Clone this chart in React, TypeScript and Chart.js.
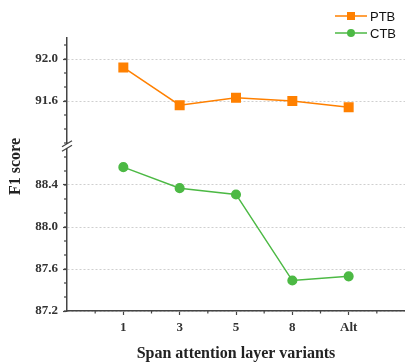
import React, { useEffect, useRef } from 'react';
import { Chart, registerables } from 'chart.js';

Chart.register(...registerables);

const categories = ['1', '3', '5', '8', 'Alt'];
const seriesNames = ['PTB', 'CTB'];
const ptbValues = [91.92, 91.56, 91.63, 91.6, 91.54];
const ctbValues = [88.57, 88.37, 88.31, 87.49, 87.53];
const upperTicks = [92.0, 91.6];
const lowerTicks = [88.4, 88.0, 87.6, 87.2];
const upperRange = [91.2, 92.2];
const lowerRange = [87.2, 88.8];

const ORANGE = '#ff8000';
const GREEN = '#4cb944';
const AXIS = '#444444';
const SERIF = '"Liberation Serif", "Times New Roman", serif';
const SANS = '"Liberation Sans", Arial, sans-serif';

const decorPlugin = {
  id: 'decor',
  afterDraw(chart: any) {
    const ctx = chart.ctx;
    const area = chart.chartArea;
    const x = chart.scales.x;
    const yTop = chart.scales.yTop;
    const yBot = chart.scales.yBot;
    ctx.save();
    ctx.strokeStyle = AXIS;
    ctx.lineWidth = 1.2;
    const step = 0.4 / 3;
    const drawYMinor = (scale: any, lo: number, hi: number) => {
      for (let k = 0; ; k++) {
        const v = lo + k * step;
        if (v > hi + 1e-6) break;
        const p = scale.getPixelForValue(v);
        ctx.beginPath();
        ctx.moveTo(area.left, p);
        ctx.lineTo(area.left - 3, p);
        ctx.stroke();
      }
    };
    drawYMinor(yTop, upperRange[0], upperRange[1]);
    drawYMinor(yBot, lowerRange[0], lowerRange[1] - 0.05);
    for (let v = 0.5; v < categories.length + 1; v += 1) {
      const p = x.getPixelForValue(v);
      ctx.beginPath();
      ctx.moveTo(p, area.bottom);
      ctx.lineTo(p, area.bottom + 2.5);
      ctx.stroke();
    }
    // axis break marks
    const by = yTop.bottom + 3;
    const bx = area.left;
    ctx.fillStyle = '#ffffff';
    ctx.fillRect(bx - 2, by - 2, 4, 4);
    ctx.lineWidth = 1.2;
    [-2.2, 2.2].forEach((d) => {
      ctx.beginPath();
      ctx.moveTo(bx - 5, by + d + 3);
      ctx.lineTo(bx + 5, by + d - 3);
      ctx.stroke();
    });
    // y-axis title
    ctx.save();
    ctx.translate(16, (area.top + area.bottom) / 2 - 8);
    ctx.rotate(-Math.PI / 2);
    ctx.fillStyle = '#222';
    ctx.font = 'bold 16px ' + SERIF;
    ctx.textAlign = 'center';
    ctx.textBaseline = 'middle';
    ctx.fillText('F1 score', 0, 0);
    ctx.restore();
    // legend
    const right = chart.width;
    chart.data.datasets.forEach((ds: any, i: number) => {
      const ly = 16 + i * 17;
      const x0 = right - 70;
      const x1 = right - 38;
      ctx.strokeStyle = ds.borderColor;
      ctx.lineWidth = 1.5;
      ctx.beginPath();
      ctx.moveTo(x0, ly);
      ctx.lineTo(x1, ly);
      ctx.stroke();
      ctx.fillStyle = ds.backgroundColor;
      const cx = (x0 + x1) / 2;
      if (ds.pointStyle === 'rect') {
        ctx.fillRect(cx - 4, ly - 4, 8, 8);
      } else {
        ctx.beginPath();
        ctx.arc(cx, ly, 4, 0, Math.PI * 2);
        ctx.fill();
      }
      ctx.fillStyle = '#111';
      ctx.font = '13px ' + SANS;
      ctx.textAlign = 'left';
      ctx.textBaseline = 'middle';
      ctx.fillText(ds.label, x1 + 3, ly + 1);
    });
    ctx.restore();
  },
};

export default function App() {
  const ref = useRef<HTMLCanvasElement | null>(null);
  useEffect(() => {
    if (!ref.current) return;
    const tickFont = { family: SERIF, size: 13, weight: 'bold' as const };
    const yCommon = (min: number, max: number, ticks: number[], weight: number) => ({
      type: 'linear' as const,
      position: 'left' as const,
      stack: 'y',
      stackWeight: weight,
      min,
      max,
      afterBuildTicks: (s: any) => {
        s.ticks = ticks.map((v) => ({ value: v }));
      },
      afterFit: (s: any) => {
        s.width = 67;
      },
      grid: {
        color: '#cfcfcf',
        lineWidth: 1,
        tickColor: AXIS,
        tickLength: 4,
        tickWidth: 1.2,
      },
      border: { display: true, color: AXIS, width: 1.5, dash: [2, 2] },
      ticks: {
        font: tickFont,
        color: '#333',
        padding: 5,
        callback: (v: any) => Number(v).toFixed(1),
      },
    });
    const chart = new Chart(ref.current, {
      type: 'line',
      data: {
        datasets: [
          {
            label: seriesNames[0],
            data: ptbValues.map((v, i) => ({ x: i + 1, y: v })),
            yAxisID: 'yTop',
            borderColor: ORANGE,
            backgroundColor: ORANGE,
            borderWidth: 1.5,
            pointStyle: 'rect',
            pointRadius: 6,
            pointHoverRadius: 6,
          },
          {
            label: seriesNames[1],
            data: ctbValues.map((v, i) => ({ x: i + 1, y: v })),
            yAxisID: 'yBot',
            borderColor: GREEN,
            backgroundColor: GREEN,
            borderWidth: 1.5,
            pointStyle: 'circle',
            pointRadius: 4.3,
            pointHoverRadius: 4.3,
          },
        ],
      },
      options: {
        animation: false,
        responsive: true,
        maintainAspectRatio: false,
        layout: { autoPadding: false, padding: { top: 38, left: 0, right: 0, bottom: 0 } },
        plugins: { legend: { display: false }, tooltip: { enabled: false } },
        scales: {
          x: {
            type: 'linear',
            min: 0,
            max: categories.length + 1,
            afterBuildTicks: (s: any) => {
              s.ticks = categories.map((_, i) => ({ value: i + 1 }));
            },
            afterFit: (s: any) => {
              s.height = 52;
            },
            grid: {
              drawOnChartArea: false,
              tickColor: AXIS,
              tickLength: 4,
              tickWidth: 1.2,
            },
            border: { display: true, color: AXIS, width: 1.5 },
            ticks: {
              font: tickFont,
              color: '#333',
              padding: 5,
              autoSkip: false,
              maxRotation: 0,
              callback: (v: any) => categories[Math.round(Number(v)) - 1] ?? '',
            },
            title: {
              display: true,
              text: 'Span attention layer variants',
              font: { family: SERIF, size: 16, weight: 'bold' },
              color: '#222',
              padding: { top: 0, bottom: 0 },
            },
          },
          yBot: yCommon(lowerRange[0], lowerRange[1], lowerTicks, 1.6),
          yTop: yCommon(upperRange[0], upperRange[1], upperTicks, 1),
        },
      },
      plugins: [decorPlugin],
    } as any);
    return () => chart.destroy();
  }, []);
  return (
    <div style={{ position: 'fixed', left: 0, top: 0, width: 405, height: 363 }}>
      <canvas ref={ref} />
    </div>
  );
}
